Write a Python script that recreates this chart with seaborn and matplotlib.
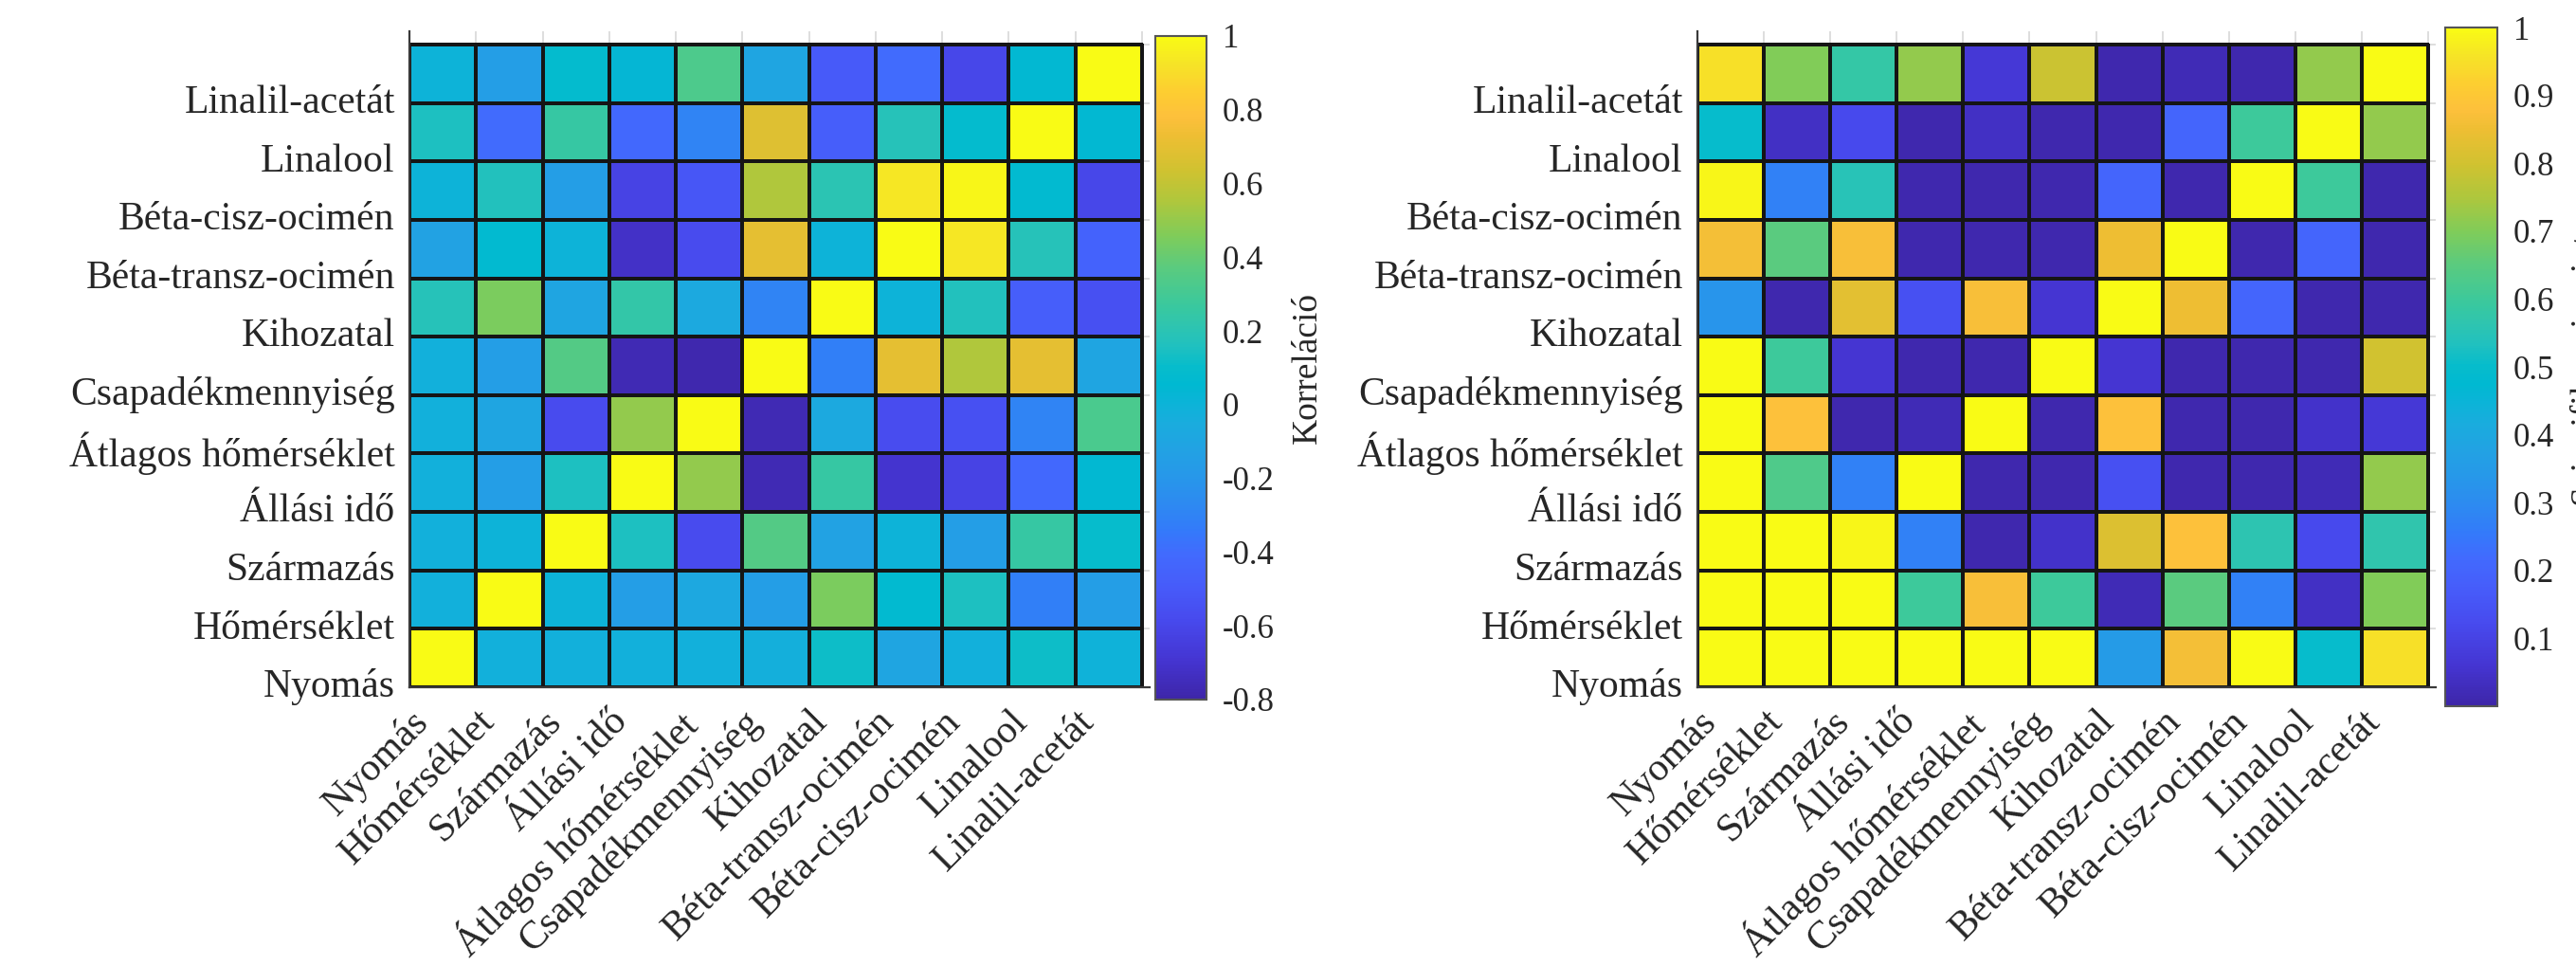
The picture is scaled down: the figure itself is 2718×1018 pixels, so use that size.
import numpy as np
import pandas as pd
import matplotlib
matplotlib.use("Agg")
import matplotlib.pyplot as plt
import seaborn as sns
from matplotlib.colors import LinearSegmentedColormap

# ---------------- data ----------------
variables = ["Nyomás", "Hőmérséklet", "Származás", "Állási idő", "Átlagos hőmérséklet",
             "Csapadékmennyiség", "Kihozatal", "Béta-transz-ocimén", "Béta-cisz-ocimén",
             "Linalool", "Linalil-acetát"]
rows_top_to_bottom = variables[::-1]

# correlation (rows from top to bottom, columns in `variables` order)
corr_linalil_acetat = [0.0, -0.15, 0.08, 0.03, 0.33, -0.1, -0.5, -0.4, -0.6, 0.05, 1.0]
corr_linalool       = [0.15, -0.4, 0.25, -0.42, -0.3, 0.68, -0.48, 0.18, 0.08, 1.0, 0.05]
corr_beta_cisz      = [0.0, 0.17, -0.15, -0.62, -0.52, 0.55, 0.2, 0.93, 0.98, 0.07, -0.6]
corr_beta_transz    = [-0.12, 0.07, 0.0, -0.72, -0.58, 0.7, 0.0, 1.0, 0.93, 0.18, -0.45]
corr_kihozatal      = [0.18, 0.45, -0.1, 0.24, -0.07, -0.3, 1.0, 0.0, 0.17, -0.48, -0.55]
corr_csapadek       = [-0.02, -0.15, 0.35, -0.77, -0.78, 1.0, -0.32, 0.7, 0.55, 0.7, -0.1]
corr_atlag_hom      = [-0.02, -0.1, -0.58, 0.5, 1.0, -0.77, -0.07, -0.57, -0.55, -0.3, 0.32]
corr_allasi_ido     = [-0.02, -0.15, 0.15, 1.0, 0.5, -0.77, 0.25, -0.7, -0.62, -0.42, 0.05]
corr_szarmazas      = [-0.02, 0.0, 1.0, 0.15, -0.58, 0.35, -0.12, 0.0, -0.15, 0.25, 0.1]
corr_homerseklet    = [-0.02, 1.0, 0.0, -0.15, -0.08, -0.15, 0.45, 0.07, 0.15, -0.32, -0.15]
corr_nyomas         = [1.0, -0.02, -0.02, -0.02, -0.02, -0.03, 0.12, -0.1, -0.02, 0.12, -0.01]

# significance (p-values), same layout
p_linalil_acetat = [0.95, 0.7, 0.58, 0.72, 0.07, 0.79, 0.01, 0.02, 0.01, 0.72, 1.0]
p_linalool       = [0.5, 0.04, 0.12, 0.01, 0.04, 0.01, 0.01, 0.2, 0.6, 1.0, 0.72]
p_beta_cisz      = [0.99, 0.27, 0.55, 0.01, 0.01, 0.01, 0.2, 0.01, 1.0, 0.6, 0.01]
p_beta_transz    = [0.86, 0.65, 0.87, 0.01, 0.01, 0.01, 0.85, 1.0, 0.01, 0.2, 0.01]
p_kihozatal      = [0.33, 0.01, 0.83, 0.14, 0.87, 0.06, 1.0, 0.85, 0.2, 0.01, 0.01]
p_csapadek       = [1.0, 0.6, 0.06, 0.01, 0.01, 1.0, 0.06, 0.01, 0.01, 0.01, 0.8]
p_atlag_hom      = [1.0, 0.88, 0.01, 0.02, 1.0, 0.01, 0.88, 0.01, 0.01, 0.05, 0.07]
p_allasi_ido     = [1.0, 0.63, 0.27, 1.0, 0.01, 0.01, 0.14, 0.01, 0.01, 0.02, 0.72]
p_szarmazas      = [1.0, 1.0, 0.99, 0.27, 0.01, 0.05, 0.82, 0.88, 0.56, 0.12, 0.57]
p_homerseklet    = [1.0, 1.0, 1.0, 0.6, 0.87, 0.6, 0.02, 0.65, 0.27, 0.04, 0.7]
p_nyomas         = [1.0, 1.0, 1.0, 1.0, 1.0, 1.0, 0.35, 0.86, 1.0, 0.5, 0.95]

corr_ticks = [-0.8, -0.6, -0.4, -0.2, 0, 0.2, 0.4, 0.6, 0.8, 1]
p_ticks = [0.1, 0.2, 0.3, 0.4, 0.5, 0.6, 0.7, 0.8, 0.9, 1]

corr_df = pd.DataFrame([corr_linalil_acetat, corr_linalool, corr_beta_cisz, corr_beta_transz,
                        corr_kihozatal, corr_csapadek, corr_atlag_hom, corr_allasi_ido,
                        corr_szarmazas, corr_homerseklet, corr_nyomas],
                       index=rows_top_to_bottom, columns=variables)
p_df = pd.DataFrame([p_linalil_acetat, p_linalool, p_beta_cisz, p_beta_transz,
                     p_kihozatal, p_csapadek, p_atlag_hom, p_allasi_ido,
                     p_szarmazas, p_homerseklet, p_nyomas],
                    index=rows_top_to_bottom, columns=variables)

# ---------------- parula-like colormap ----------------
anchors = [
    (0.000, (0.2422, 0.1504, 0.6603)),
    (0.059, (0.2691, 0.2094, 0.8249)),
    (0.122, (0.2811, 0.2930, 0.9352)),
    (0.165, (0.2784, 0.3529, 0.9769)),
    (0.216, (0.2591, 0.4145, 0.9950)),
    (0.255, (0.2006, 0.4803, 0.9812)),
    (0.294, (0.1773, 0.5401, 0.9437)),
    (0.333, (0.1540, 0.5902, 0.9176)),
    (0.376, (0.1321, 0.6363, 0.8911)),
    (0.416, (0.1009, 0.6750, 0.8687)),
    (0.447, (0.0433, 0.7039, 0.8453)),
    (0.475, (0.0009, 0.7248, 0.8215)),
    (0.502, (0.0253, 0.7376, 0.7984)),
    (0.533, (0.1252, 0.7552, 0.7493)),
    (0.565, (0.1853, 0.7721, 0.6853)),
    (0.590, (0.2178, 0.7849, 0.6272)),
    (0.650, (0.3500, 0.7950, 0.5000)),
    (0.700, (0.5000, 0.8000, 0.3500)),
    (0.750, (0.6800, 0.7800, 0.2400)),
    (0.800, (0.8200, 0.7600, 0.1900)),
    (0.850, (0.9300, 0.7460, 0.2000)),
    (0.880, (0.9930, 0.7520, 0.2340)),
    (0.920, (0.9930, 0.8100, 0.1880)),
    (0.960, (0.9630, 0.8940, 0.1490)),
    (1.000, (0.9769, 0.9839, 0.0805)),
]
parula = LinearSegmentedColormap.from_list("parula", anchors, N=256)

# ---------------- style ----------------
sns.set_theme(style="white")
plt.rcParams['font.family'] = ['Liberation Serif', 'DejaVu Serif']
plt.rcParams['axes.unicode_minus'] = False
TXT = '#262626'
FS_LAB = 30
FS_CB = 25

W, H = 2718, 1018
fig = plt.figure(figsize=(W / 100, H / 100), dpi=100)


def fx(px):
    return px / W


def fy(py):
    return 1 - py / H


def panel(df, ax_px, cax_px, vmin, vmax, ticks):
    l, t, r, b = ax_px
    ax = fig.add_axes([fx(l), fy(b), fx(r) - fx(l), fy(t) - fy(b)])
    cl, ct, cr, cb = cax_px
    cax = fig.add_axes([fx(cl), fy(cb), fx(cr) - fx(cl), fy(ct) - fy(cb)])
    sns.heatmap(df, ax=ax, cmap=parula, vmin=vmin, vmax=vmax, cbar_ax=cax,
                linewidths=1.5, linecolor='#151515', square=False)
    n = len(variables)
    cell_w = (r - l - 8) / n
    cell_h = (b - t - 14) / n
    ax.set_xlim(0, n + 8 / cell_w)
    ax.set_ylim(n, -14 / cell_h)
    ax.set_xticks(np.arange(n))
    ax.set_xticklabels(variables, rotation=45, ha='right', va='top',
                       rotation_mode='anchor', fontsize=FS_LAB, color=TXT)
    ax.set_yticks(np.arange(1, n + 1))
    ax.set_yticklabels(rows_top_to_bottom, rotation=0, fontsize=FS_LAB, color=TXT)
    ax.tick_params(axis='x', length=0, pad=12)
    ax.tick_params(axis='y', length=0, pad=11)
    for s in ['left', 'bottom']:
        ax.spines[s].set_visible(True)
        ax.spines[s].set_color('#3a3a3a')
        ax.spines[s].set_linewidth(1.6)
    for s in ['top', 'right']:
        ax.spines[s].set_visible(False)
    # faint mirrored ticks (top / right)
    sx = ax.secondary_xaxis('top')
    sx.set_xticks(np.arange(n + 1))
    sx.tick_params(direction='in', length=9, width=1.2, color='#d8d8d8', labeltop=False)
    sx.spines['top'].set_visible(False)
    sy = ax.secondary_yaxis('right')
    sy.set_yticks(np.arange(n + 1))
    sy.tick_params(direction='in', length=9, width=1.2, color='#d8d8d8', labelright=False)
    sy.spines['right'].set_visible(False)

    cbar = ax.collections[0].colorbar
    cbar.set_ticks(ticks)
    cbar.set_ticklabels([f"{v:g}" for v in ticks])
    cbar.ax.tick_params(direction='in', length=6, width=1.5, color='#333333',
                        labelsize=FS_CB, labelcolor=TXT, pad=12)
    cbar.outline.set_edgecolor('#555555')
    cbar.outline.set_linewidth(1.5)
    return ax, cbar


panel(corr_df, (432, 33, 1213, 725), (1219, 38, 1273, 738), -0.8, 1, corr_ticks)
panel(p_df, (1791, 33, 2570, 725), (2580, 29, 2635, 745), 0, 1, p_ticks)

fig.text(fx(1380), fy(388), 'Korreláció', rotation=90, ha='center', va='center',
         fontsize=27, color=TXT)
fig.text(fx(2709), fy(388), 'Szignifikanciaszint', rotation=90, ha='left', va='center',
         fontsize=27, color=TXT)

fig.savefig("out.png", dpi=100)
